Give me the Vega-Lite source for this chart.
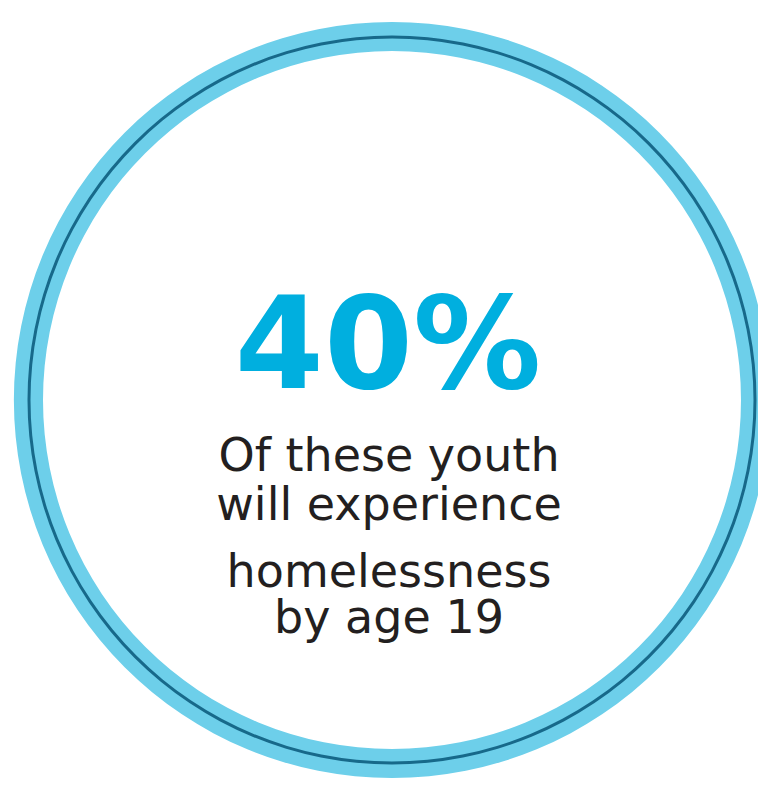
{
  "$schema": "https://vega.github.io/schema/vega-lite/v6.json",
  "autosize": {"type": "none"},
  "width": 732,
  "height": 782,
  "padding": {"left": 26, "top": 9, "right": 0, "bottom": 0},
  "background": "#ffffff",
  "config": {"view": {"stroke": null}},
  "data": {
    "values": [
      {
        "stat": "40%",
        "caption1": "Of these youth\nwill experience",
        "caption2": "homelessness\nby age 19"
      }
    ]
  },
  "layer": [
    {
      "mark": {"type": "arc", "theta": 0, "theta2": 6.2832, "radius": 378, "radius2": 349, "color": "#6dcfea"},
      "encoding": {}
    },
    {
      "mark": {"type": "arc", "theta": 0, "theta2": 6.2832, "radius": 364.5, "radius2": 361.5, "color": "#17698a"},
      "encoding": {}
    },
    {
      "mark": {"type": "text", "font": "DejaVu Sans", "fontWeight": "bold", "fontSize": 128, "color": "#00afdf", "align": "center", "baseline": "alphabetic", "dx": -4, "dy": -12},
      "encoding": {"text": {"field": "stat", "type": "nominal"}}
    },
    {
      "mark": {"type": "text", "font": "DejaVu Sans", "fontSize": 46, "color": "#231f20", "align": "center", "baseline": "alphabetic", "lineBreak": "\n", "lineHeight": 49, "dx": -3, "dy": 71},
      "encoding": {"text": {"field": "caption1", "type": "nominal"}}
    },
    {
      "mark": {"type": "text", "font": "DejaVu Sans", "fontSize": 46, "color": "#231f20", "align": "center", "baseline": "alphabetic", "lineBreak": "\n", "lineHeight": 46, "dx": -3, "dy": 187},
      "encoding": {"text": {"field": "caption2", "type": "nominal"}}
    }
  ]
}
